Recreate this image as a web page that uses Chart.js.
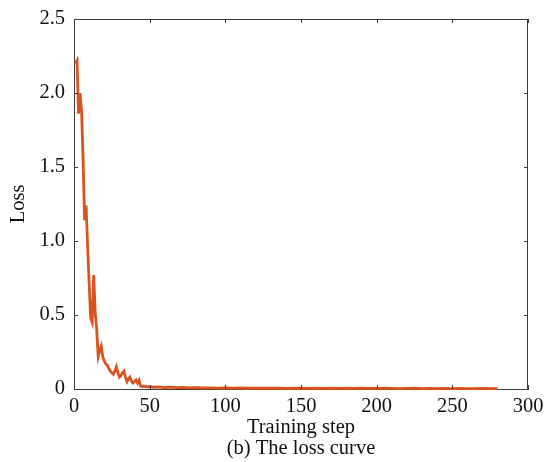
<!DOCTYPE html>
<html>
<head>
<meta charset="utf-8">
<script src="https://cdn.jsdelivr.net/npm/chart.js@4.4.1/dist/chart.umd.min.js"></script>
<style>
  html, body { margin: 0; padding: 0; background: #fff; }
  #wrap { width: 545px; height: 462px; position: relative; }
</style>
</head>
<body>
<div id="wrap"><canvas id="c"></canvas></div>
<script>
// ---- data ----
const steps = [
  1, 2, 3, 4, 5, 6, 7, 8, 9, 10,
  11, 12, 13, 14, 15, 16, 17, 18, 19, 20,
  21, 22, 23, 24, 25, 26, 27, 28, 29, 30,
  31, 32, 33, 34, 35, 36, 37, 38, 39, 40,
  41, 42, 43, 44, 45, 46, 48, 50, 53, 56,
  60, 64, 68, 72, 76, 80, 85, 90, 95, 100,
  105, 110, 115, 120, 125, 130, 135, 140, 145, 150,
  155, 160, 165, 170, 175, 180, 185, 190, 195, 200,
  205, 210, 215, 220, 225, 230, 235, 240, 245, 250,
  255, 260, 265, 270, 275, 280
];
const loss = [
  2.20, 2.22, 1.86, 2.00, 1.88, 1.55, 1.14, 1.24, 0.96, 0.72,
  0.48, 0.45, 0.77, 0.52, 0.40, 0.22, 0.26, 0.29, 0.22, 0.19,
  0.17, 0.16, 0.14, 0.12, 0.11, 0.10, 0.12, 0.15, 0.11, 0.08,
  0.09, 0.11, 0.12, 0.08, 0.05, 0.07, 0.08, 0.05, 0.04, 0.05,
  0.06, 0.04, 0.06, 0.02, 0.015, 0.02, 0.015, 0.016, 0.012, 0.014,
  0.010, 0.012, 0.009, 0.010, 0.008, 0.009, 0.007, 0.008, 0.006, 0.007,
  0.006, 0.007, 0.005, 0.006, 0.005, 0.006, 0.005, 0.004, 0.005, 0.006,
  0.004, 0.005, 0.004, 0.005, 0.004, 0.006, 0.004, 0.005, 0.004, 0.004,
  0.005, 0.004, 0.003, 0.004, 0.005, 0.003, 0.004, 0.003, 0.004, 0.003,
  0.004, 0.003, 0.003, 0.004, 0.003, 0.003
];
const xTicks = [0, 50, 100, 150, 200, 250, 300];
const yTicks = [0, 0.5, 1.0, 1.5, 2.0, 2.5];
const yTickLabels = ['0', '0.5', '1.0', '1.5', '2.0', '2.5'];
const xTitle = 'Training step';
const caption = '(b) The loss curve';
const yTitle = 'Loss';

const axisColor = '#3a3a3a';
const lineColor = '#d9531e';
const FONT = "'Liberation Serif', 'Times New Roman', serif";
const FS = 20.5;

// inward ticks on all four sides + top/right frame
const frameTicks = {
  id: 'frameTicks',
  afterDraw(chart) {
    const { ctx, chartArea: a, scales } = chart;
    const L = 4;
    ctx.save();
    ctx.strokeStyle = axisColor;
    ctx.lineWidth = 1;
    ctx.beginPath();
    ctx.moveTo(a.left, a.top + 0.5); ctx.lineTo(a.right, a.top + 0.5);
    ctx.moveTo(a.right - 0.5, a.top); ctx.lineTo(a.right - 0.5, a.bottom);
    xTicks.forEach(v => {
      const px = Math.round(scales.x.getPixelForValue(v)) + 0.5;
      ctx.moveTo(px, a.bottom); ctx.lineTo(px, a.bottom - L);
      ctx.moveTo(px, a.top); ctx.lineTo(px, a.top + L);
    });
    yTicks.forEach(v => {
      const py = Math.round(scales.y.getPixelForValue(v)) + 0.5;
      ctx.moveTo(a.left, py); ctx.lineTo(a.left + L, py);
      ctx.moveTo(a.right, py); ctx.lineTo(a.right - L, py);
    });
    ctx.stroke();
    ctx.restore();
  }
};

new Chart(document.getElementById('c'), {
  type: 'line',
  data: {
    datasets: [{
      data: steps.map((s, i) => ({ x: s, y: loss[i] })),
      borderColor: lineColor,
      borderWidth: 2.8,
      pointRadius: 0,
      tension: 0,
      fill: false,
      clip: false
    }]
  },
  options: {
    responsive: true,
    maintainAspectRatio: false,
    animation: false,
    events: [],
    layout: { padding: { left: 0, right: 17, top: 19, bottom: 0 } },
    plugins: { legend: { display: false }, tooltip: { enabled: false } },
    scales: {
      x: {
        type: 'linear',
        min: 0, max: 300,
        afterBuildTicks(s) { s.ticks = xTicks.map(v => ({ value: v })); },
        afterFit(s) { s.height = 73; s.paddingLeft = 0; s.paddingRight = 0; },
        grid: { display: false, drawTicks: false },
        border: { display: true, color: axisColor, width: 1 },
        ticks: {
          color: '#111', padding: 6, maxRotation: 0, autoSkip: false,
          font: { family: FONT, size: FS, lineHeight: 1.1 }
        },
        title: {
          display: true,
          text: [xTitle, caption],
          color: '#111',
          font: { family: FONT, size: FS, lineHeight: 1.03 },
          padding: { top: 0, bottom: 3 }
        }
      },
      y: {
        type: 'linear',
        min: 0, max: 2.5,
        afterBuildTicks(s) { s.ticks = yTicks.map(v => ({ value: v })); },
        afterFit(s) { s.width = 74; s.paddingTop = 0; s.paddingBottom = 0; },
        grid: { display: false, drawTicks: false },
        border: { display: true, color: axisColor, width: 1 },
        ticks: {
          color: '#111', padding: 9, autoSkip: false,
          font: { family: FONT, size: FS },
          callback: (v) => { const i = yTicks.indexOf(v); return i >= 0 ? yTickLabels[i] : ''; }
        },
        title: {
          display: true,
          text: yTitle,
          color: '#111',
          font: { family: FONT, size: FS, lineHeight: 1.2 },
          padding: { top: 6, bottom: 0 }
        }
      }
    }
  },
  plugins: [frameTicks]
});
</script>
</body>
</html>
